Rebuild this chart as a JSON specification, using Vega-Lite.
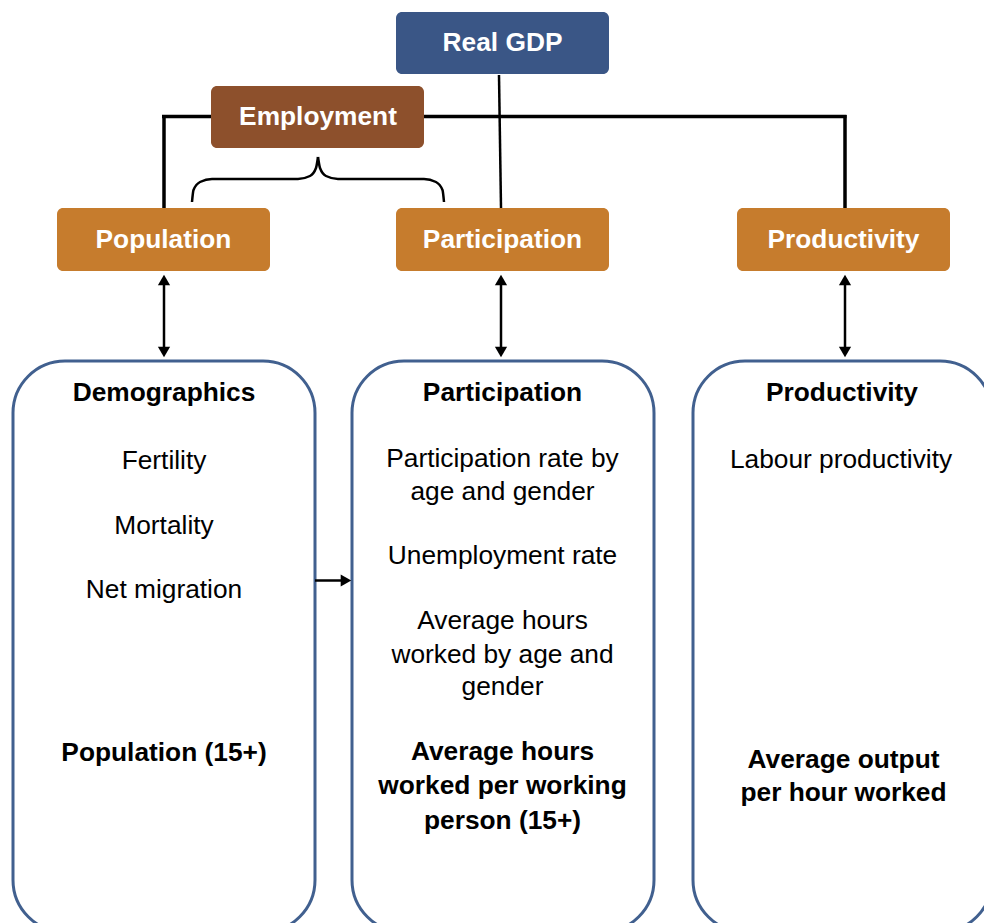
{
  "$schema": "https://vega.github.io/schema/vega-lite/v6.json",
  "width": 984,
  "height": 923,
  "padding": 0,
  "autosize": {"type": "fit", "contains": "padding"},
  "background": "white",
  "config": {"view": {"stroke": null}},
  "datasets": {
    "boxes": [
      {"name": "Real GDP", "x1": 396, "x2": 609, "y1": 12, "y2": 74, "kind": "gdp"},
      {"name": "Employment", "x1": 211, "x2": 424, "y1": 86, "y2": 148, "kind": "employment"},
      {"name": "Population", "x1": 57, "x2": 270, "y1": 208, "y2": 271, "kind": "driver"},
      {"name": "Participation", "x1": 396, "x2": 609, "y1": 208, "y2": 271, "kind": "driver"},
      {"name": "Productivity", "x1": 737, "x2": 950, "y1": 208, "y2": 271, "kind": "driver"}
    ],
    "panels": [
      {"name": "Demographics", "x1": 13, "x2": 315, "y1": 361, "y2": 932},
      {"name": "Participation", "x1": 352, "x2": 654, "y1": 361, "y2": 932},
      {"name": "Productivity", "x1": 693, "x2": 992, "y1": 361, "y2": 932}
    ],
    "segments": [
      {"x1": 164, "y1": 115, "x2": 164, "y2": 208, "kind": "connector"},
      {"x1": 162, "y1": 116.5, "x2": 211, "y2": 116.5, "kind": "connector"},
      {"x1": 424, "y1": 116.5, "x2": 846.5, "y2": 116.5, "kind": "connector"},
      {"x1": 845, "y1": 115, "x2": 845, "y2": 208, "kind": "connector"},
      {"x1": 499, "y1": 75, "x2": 501, "y2": 208, "kind": "link"},
      {"x1": 164, "y1": 282, "x2": 164, "y2": 350, "kind": "arrow"},
      {"x1": 501, "y1": 282, "x2": 501, "y2": 350, "kind": "arrow"},
      {"x1": 845, "y1": 282, "x2": 845, "y2": 350, "kind": "arrow"},
      {"x1": 315, "y1": 580.5, "x2": 344, "y2": 580.5, "kind": "arrow"}
    ],
    "heads": [
      {"x": 164, "y": 280, "dir": "up"},
      {"x": 164, "y": 352, "dir": "down"},
      {"x": 501, "y": 280, "dir": "up"},
      {"x": 501, "y": 352, "dir": "down"},
      {"x": 845, "y": 280, "dir": "up"},
      {"x": 845, "y": 352, "dir": "down"},
      {"x": 346, "y": 580.5, "dir": "right"}
    ],
    "brace": [
      {"side": "left", "o": 1, "x": 192, "y": 202},
      {"side": "left", "o": 2, "x": 193.5, "y": 190},
      {"side": "left", "o": 3, "x": 200, "y": 182},
      {"side": "left", "o": 4, "x": 212, "y": 179},
      {"side": "left", "o": 5, "x": 298, "y": 179},
      {"side": "left", "o": 6, "x": 310, "y": 176},
      {"side": "left", "o": 7, "x": 316, "y": 168},
      {"side": "left", "o": 8, "x": 318, "y": 157},
      {"side": "right", "o": 1, "x": 318, "y": 157},
      {"side": "right", "o": 2, "x": 320, "y": 168},
      {"side": "right", "o": 3, "x": 326, "y": 176},
      {"side": "right", "o": 4, "x": 338, "y": 179},
      {"side": "right", "o": 5, "x": 424, "y": 179},
      {"side": "right", "o": 6, "x": 436, "y": 182},
      {"side": "right", "o": 7, "x": 442.5, "y": 190},
      {"side": "right", "o": 8, "x": 444, "y": 202}
    ],
    "labels": [
      {"text": "Real GDP", "x": 502.5, "y": 43, "kind": "box"},
      {"text": "Employment", "x": 318, "y": 117, "kind": "box"},
      {"text": "Population", "x": 163.5, "y": 240, "kind": "box"},
      {"text": "Participation", "x": 502.5, "y": 240, "kind": "box"},
      {"text": "Productivity", "x": 843.5, "y": 240, "kind": "box"},
      {"text": "Demographics", "x": 164, "y": 393, "kind": "heading"},
      {"text": "Fertility", "x": 164, "y": 461, "kind": "body"},
      {"text": "Mortality", "x": 164, "y": 526, "kind": "body"},
      {"text": "Net migration", "x": 164, "y": 590, "kind": "body"},
      {"text": "Population (15+)", "x": 164, "y": 753, "kind": "heading"},
      {"text": "Participation", "x": 502.5, "y": 393, "kind": "heading"},
      {"text": "Participation rate by", "x": 502.5, "y": 459, "kind": "body"},
      {"text": "age and gender", "x": 502.5, "y": 492, "kind": "body"},
      {"text": "Unemployment rate", "x": 502.5, "y": 556, "kind": "body"},
      {"text": "Average hours", "x": 502.5, "y": 621, "kind": "body"},
      {"text": "worked by age and", "x": 502.5, "y": 655, "kind": "body"},
      {"text": "gender", "x": 502.5, "y": 687, "kind": "body"},
      {"text": "Average hours", "x": 502.5, "y": 752, "kind": "heading"},
      {"text": "worked per working", "x": 502.5, "y": 786, "kind": "heading"},
      {"text": "person (15+)", "x": 502.5, "y": 821, "kind": "heading"},
      {"text": "Productivity", "x": 842, "y": 393, "kind": "heading"},
      {"text": "Labour productivity", "x": 841, "y": 460, "kind": "body"},
      {"text": "Average output", "x": 843.5, "y": 760, "kind": "heading"},
      {"text": "per hour worked", "x": 843.5, "y": 793, "kind": "heading"}
    ]
  },
  "layer": [
    {
      "data": {"name": "panels"},
      "mark": {"type": "rect", "cornerRadius": 52, "fill": "white", "stroke": "#41608F", "strokeWidth": 3, "clip": true},
      "encoding": {
        "x": {"field": "x1", "type": "quantitative", "scale": {"domain": [0, 984], "nice": false, "zero": false}, "axis": null},
        "x2": {"field": "x2"},
        "y": {"field": "y1", "type": "quantitative", "scale": {"domain": [0, 923], "reverse": true, "nice": false, "zero": false}, "axis": null},
        "y2": {"field": "y2"}
      }
    },
    {
      "data": {"name": "boxes"},
      "mark": {"type": "rect", "cornerRadius": 6},
      "encoding": {
        "x": {"field": "x1", "type": "quantitative", "axis": null},
        "x2": {"field": "x2"},
        "y": {"field": "y1", "type": "quantitative", "axis": null},
        "y2": {"field": "y2"},
        "color": {"field": "kind", "type": "nominal", "legend": null,
          "scale": {"domain": ["gdp", "employment", "driver"], "range": ["#3A5686", "#8D502C", "#C67C2D"]}}
      }
    },
    {
      "data": {"name": "segments"},
      "transform": [{"filter": "datum.kind === 'connector'"}],
      "mark": {"type": "rule", "color": "black", "strokeWidth": 3.5},
      "encoding": {
        "x": {"field": "x1", "type": "quantitative", "axis": null},
        "y": {"field": "y1", "type": "quantitative", "axis": null},
        "x2": {"field": "x2"},
        "y2": {"field": "y2"}
      }
    },
    {
      "data": {"name": "segments"},
      "transform": [{"filter": "datum.kind !== 'connector'"}],
      "mark": {"type": "rule", "color": "black", "strokeWidth": 2.5},
      "encoding": {
        "x": {"field": "x1", "type": "quantitative", "axis": null},
        "y": {"field": "y1", "type": "quantitative", "axis": null},
        "x2": {"field": "x2"},
        "y2": {"field": "y2"}
      }
    },
    {
      "data": {"name": "brace"},
      "mark": {"type": "line", "color": "black", "strokeWidth": 2.5, "interpolate": "monotone"},
      "encoding": {
        "x": {"field": "x", "type": "quantitative", "axis": null},
        "y": {"field": "y", "type": "quantitative", "axis": null},
        "detail": {"field": "side"},
        "order": {"field": "o"}
      }
    },
    {
      "data": {"name": "heads"},
      "mark": {"type": "point", "filled": true, "color": "black", "opacity": 1, "size": 150},
      "encoding": {
        "x": {"field": "x", "type": "quantitative", "axis": null},
        "y": {"field": "y", "type": "quantitative", "axis": null},
        "shape": {"field": "dir", "type": "nominal", "legend": null,
          "scale": {"domain": ["up", "down", "right"], "range": ["triangle-up", "triangle-down", "triangle-right"]}}
      }
    },
    {
      "data": {"name": "labels"},
      "transform": [{"filter": "datum.kind === 'box'"}],
      "mark": {"type": "text", "font": "Liberation Sans", "fontSize": 26.3, "fontWeight": "bold", "color": "white", "align": "center", "baseline": "middle"},
      "encoding": {
        "x": {"field": "x", "type": "quantitative", "axis": null},
        "y": {"field": "y", "type": "quantitative", "axis": null},
        "text": {"field": "text"}
      }
    },
    {
      "data": {"name": "labels"},
      "transform": [{"filter": "datum.kind === 'heading'"}],
      "mark": {"type": "text", "font": "Liberation Sans", "fontSize": 26.3, "fontWeight": "bold", "color": "black", "align": "center", "baseline": "middle"},
      "encoding": {
        "x": {"field": "x", "type": "quantitative", "axis": null},
        "y": {"field": "y", "type": "quantitative", "axis": null},
        "text": {"field": "text"}
      }
    },
    {
      "data": {"name": "labels"},
      "transform": [{"filter": "datum.kind === 'body'"}],
      "mark": {"type": "text", "font": "Liberation Sans", "fontSize": 26.3, "fontWeight": "normal", "color": "black", "align": "center", "baseline": "middle"},
      "encoding": {
        "x": {"field": "x", "type": "quantitative", "axis": null},
        "y": {"field": "y", "type": "quantitative", "axis": null},
        "text": {"field": "text"}
      }
    }
  ]
}
